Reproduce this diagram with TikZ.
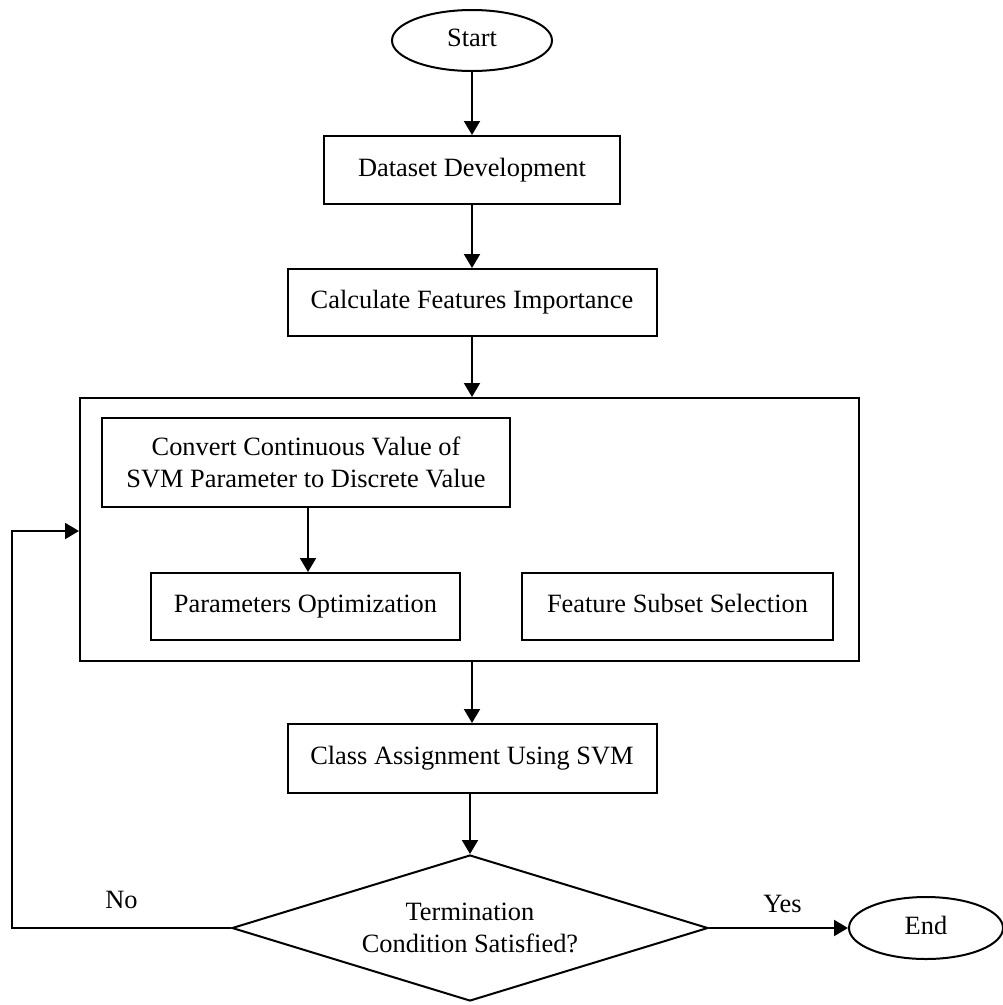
\documentclass[tikz,border=0pt]{standalone}
\usepackage{fontspec}
\setmainfont{Liberation Serif}
\usetikzlibrary{shapes.geometric,arrows.meta}
\begin{document}
\begin{tikzpicture}[x=1pt,y=-1pt,
  every node/.style={font=\fontsize{26.4pt}{31.7pt}\selectfont},
  line/.style={draw=black,line width=2pt},
  arr/.style={line,-{Triangle[width=16pt,length=14pt]}},
  oneline/.style={text height=18pt,text depth=6pt},
  procbox/.style={draw=black,line width=2pt,rectangle,inner sep=0pt,align=center},
  termel/.style={draw=black,line width=2pt,ellipse,inner sep=0pt,oneline},
  decis/.style={draw=black,line width=2pt,diamond,shape aspect=3.26,inner sep=0pt,align=center}]
\useasboundingbox (0,0) rectangle (1003,1005);
\node[termel,minimum width=160pt,minimum height=61pt] (start) at (472,40.5) {Start};
\node[procbox,oneline,minimum width=296pt,minimum height=68pt] (data) at (472,170) {Dataset Development};
\node[procbox,oneline,minimum width=369pt,minimum height=67pt] (calc) at (472,302.5) {Calculate Features Importance};
\node[procbox,minimum width=779pt,minimum height=263pt] (big) at (469.5,529.5) {};
\node[procbox,minimum width=408pt,minimum height=89pt] (conv) at (306,462.5) {Convert Continuous Value of\\SVM Parameter to Discrete Value};
\node[procbox,oneline,minimum width=309pt,minimum height=67pt] (par) at (305.5,606.5) {Parameters Optimization};
\node[procbox,oneline,minimum width=311pt,minimum height=67pt] (feat) at (677.5,606.5) {Feature Subset Selection};
\node[procbox,oneline,minimum width=369pt,minimum height=69pt] (cls) at (472,758.5) {Class Assignment Using SVM};
\node[decis,minimum width=476pt,minimum height=146pt] (dia) at (470,928) {Termination\\Condition Satisfied?};
\node[termel,minimum width=154pt,minimum height=62pt] (end) at (926,928) {End};
\node[anchor=base,inner sep=0pt] (nolab) at (121.5,908) {No};
\node[anchor=base,inner sep=0pt] (yeslab) at (782.5,912) {Yes};
\coordinate (fbL) at (12,928);
\coordinate (fbT) at (12,531);
\draw[arr] (start.south) -- (start.south |- data.north);
\draw[arr] (data.south) -- (data.south |- calc.north);
\draw[arr] (calc.south) -- (calc.south |- big.north);
\draw[arr] ([xshift=2pt]conv.south) -- ([xshift=2pt]conv.south |- par.north);
\draw[arr] (cls.north |- big.south) -- (cls.north);
\draw[arr] (dia.north |- cls.south) -- (dia.north);
\draw[arr] (dia.east) -- (end.west);
\draw[arr] (dia.west) -- (fbL) -- (fbT) -- (fbT -| big.west);
\end{tikzpicture}
\end{document}
